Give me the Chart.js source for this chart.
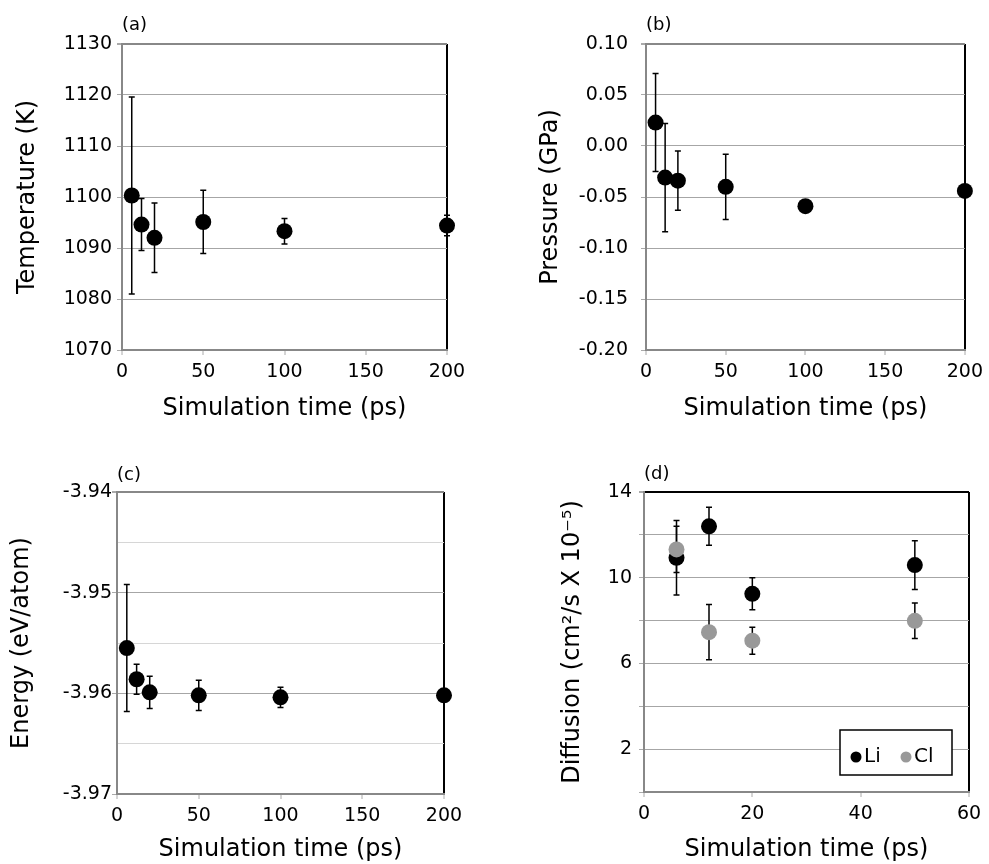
<!DOCTYPE html>
<html>
<head>
<meta charset="utf-8">
<script src="https://cdn.jsdelivr.net/npm/chart.js@4.4.1/dist/chart.umd.min.js"></script>
<style>
  html, body { margin: 0; padding: 0; background: #fff; }
  body { width: 989px; height: 864px; position: relative; overflow: hidden; }
  canvas { position: absolute; }
</style>
</head>
<body>
<canvas id="chartA" width="494" height="432" style="left:0px;top:0px"></canvas>
<canvas id="chartB" width="495" height="432" style="left:494px;top:0px"></canvas>
<canvas id="chartC" width="494" height="432" style="left:0px;top:432px"></canvas>
<canvas id="chartD" width="495" height="432" style="left:494px;top:432px"></canvas>
<script>
// simulation lengths (ps)
var times = [6, 12, 20, 50, 100, 200];
var temperature = [1100.3, 1094.6, 1092.0, 1095.1, 1093.3, 1094.4];
var temperatureErr = [19.3, 5.1, 6.8, 6.2, 2.5, 2.0];
var pressure = [0.023, -0.031, -0.034, -0.040, -0.059, -0.044];
var pressureErr = [0.048, 0.053, 0.029, 0.032, 0.006, 0.004];
var energy = [-3.9555, -3.9586, -3.9599, -3.9602, -3.9604, -3.9602];
var energyErr = [0.0063, 0.0015, 0.0016, 0.0015, 0.001, 0.0004];

var diffTimes = [6, 12, 20, 50];
var diffLi = [10.93, 12.40, 9.25, 10.59];
var diffLiErr = [1.74, 0.89, 0.75, 1.14];
var diffCl = [11.32, 7.46, 7.06, 7.99];
var diffClErr = [1.08, 1.29, 0.63, 0.83];

Chart.defaults.font.family = "'DejaVu Sans', sans-serif";
Chart.defaults.color = '#000';

function pts(xs, ys) {
  var out = [];
  for (var i = 0; i < xs.length; i++) out.push({x: xs[i], y: ys[i]});
  return out;
}

// vertical error bars with small caps, under the dots
var errorBars = {
  id: 'errorBars',
  beforeDatasetsDraw: function(chart) {
    var ctx = chart.ctx, xs = chart.scales.x, ys = chart.scales.y;
    ctx.save();
    ctx.strokeStyle = '#000';
    ctx.lineWidth = 1.5;
    chart.data.datasets.forEach(function(ds) {
      if (!ds.errors) return;
      ds.data.forEach(function(p, j) {
        var e = ds.errors[j];
        var px = xs.getPixelForValue(p.x);
        var top = ys.getPixelForValue(p.y + e);
        var bot = ys.getPixelForValue(p.y - e);
        ctx.beginPath();
        ctx.moveTo(px, top); ctx.lineTo(px, bot);
        ctx.moveTo(px - 3, top); ctx.lineTo(px + 3, top);
        ctx.moveTo(px - 3, bot); ctx.lineTo(px + 3, bot);
        ctx.stroke();
      });
    });
    ctx.restore();
  }
};

// boxed legend in the lower right of the plot (panel d)
var boxLegend = {
  id: 'boxLegend',
  afterDraw: function(chart) {
    if (!chart.options.plugins.boxLegend || !chart.options.plugins.boxLegend.show) return;
    var ctx = chart.ctx, a = chart.chartArea;
    var w = 112, h = 45;
    var left = a.right - 17 - w, top = a.bottom - 17 - h;
    ctx.save();
    ctx.fillStyle = '#fff';
    ctx.fillRect(left, top, w, h);
    ctx.strokeStyle = '#000';
    ctx.lineWidth = 1.5;
    ctx.strokeRect(left, top, w, h);
    ctx.font = "20px 'DejaVu Sans'";
    ctx.textBaseline = 'middle';
    var xpos = left + 16;
    chart.data.datasets.forEach(function(ds) {
      ctx.fillStyle = ds.backgroundColor;
      ctx.beginPath();
      ctx.arc(xpos, top + 27, 5.5, 0, Math.PI * 2);
      ctx.fill();
      ctx.fillStyle = '#000';
      ctx.fillText(ds.label, xpos + 8, top + 27);
      xpos += 50;
    });
    ctx.restore();
  }
};

function makePanel(id, cfg) {
  var canvas = document.getElementById(id);
  var ctop = cfg.topBorder || '#888';
  var yMax = cfg.yMax;
  return new Chart(canvas, {
    type: 'scatter',
    data: { datasets: cfg.datasets },
    options: {
      responsive: false,
      animation: false,
      layout: { padding: { left: 0, top: 0, right: cfg.padRight, bottom: 0 } },
      plugins: {
        legend: { display: false },
        tooltip: { enabled: false },
        title: {
          display: true,
          text: cfg.label,
          align: 'start',
          fullSize: false,
          font: { size: 18, weight: 'normal' },
          padding: { top: cfg.labelTop, bottom: cfg.labelBottom }
        },
        boxLegend: { show: !!cfg.legend }
      },
      scales: {
        x: {
          type: 'linear',
          min: 0,
          max: cfg.xMax,
          afterFit: function(s) { s.height = cfg.xHeight; },
          ticks: { stepSize: cfg.xStep, padding: 6, font: { size: 19 }, maxRotation: 0 },
          grid: {
            color: function(c) { return c.tick && c.tick.value === cfg.xMax ? '#000' : 'rgba(0,0,0,0)'; },
            lineWidth: 2,
            tickColor: '#aaa',
            tickLength: 5,
            tickWidth: 1
          },
          border: { color: '#888', width: 2 },
          title: {
            display: true,
            text: 'Simulation time (ps)',
            font: { size: 24 },
            padding: { top: 0, bottom: cfg.xTitlePad }
          }
        },
        y: {
          min: cfg.yMin,
          max: yMax,
          afterFit: function(s) { s.width = cfg.yWidth; },
          ticks: {
            stepSize: cfg.yStep,
            padding: cfg.yTickPad,
            font: { size: 19 },
            callback: cfg.yLabel
          },
          grid: {
            color: function(c) {
              if (!c.tick) return '#a6a6a6';
              if (Math.abs(c.tick.value - yMax) < 1e-9) return ctop;
              return cfg.minorGrid && cfg.minorGrid(c.index) ? '#d6d6d6' : '#a6a6a6';
            },
            lineWidth: function(c) {
              return c.tick && Math.abs(c.tick.value - yMax) < 1e-9 ? 2 : 1;
            },
            tickColor: function(c) {
              return cfg.minorGrid && cfg.minorGrid(c.index) ? 'rgba(0,0,0,0)' : '#aaa';
            },
            tickLength: 5
          },
          border: { color: '#888', width: 2 },
          title: {
            display: true,
            text: cfg.yTitle,
            font: { size: 24 },
            padding: { top: cfg.yTitlePad, bottom: 0 }
          }
        }
      }
    },
    plugins: [errorBars, boxLegend]
  });
}

function dot(label, xs, ys, errs, color, order) {
  return {
    label: label,
    data: pts(xs, ys),
    errors: errs,
    backgroundColor: color,
    borderColor: color,
    borderWidth: 0,
    pointRadius: 8,
    pointHoverRadius: 8,
    clip: false,
    order: order || 0
  };
}

makePanel('chartA', {
  label: '(a)', labelTop: 14.2, labelBottom: 8.2,
  datasets: [dot('Temperature', times, temperature, temperatureErr, '#000')],
  xMax: 200, xStep: 50, xHeight: 82, xTitlePad: 8.6,
  yMin: 1070, yMax: 1130, yStep: 10, yWidth: 122, yTickPad: 5, yTitlePad: 13,
  yTitle: 'Temperature (K)', padRight: 47
});

makePanel('chartB', {
  label: '(b)', labelTop: 14.2, labelBottom: 8.2,
  datasets: [dot('Pressure', times, pressure, pressureErr, '#000')],
  xMax: 200, xStep: 50, xHeight: 82, xTitlePad: 8.6,
  yMin: -0.2, yMax: 0.1, yStep: 0.05, yWidth: 152, yTickPad: 13, yTitlePad: 42.6,
  yTitle: 'Pressure (GPa)', padRight: 19,
  yLabel: function(v) { return Math.abs(v) < 1e-9 ? '0.00' : v.toFixed(2); }
});

makePanel('chartC', {
  label: '(c)', labelTop: 32.2, labelBottom: 6.2,
  datasets: [dot('Energy', times, energy, energyErr, '#000')],
  xMax: 200, xStep: 50, xHeight: 70, xTitlePad: 0,
  yMin: -3.97, yMax: -3.94, yStep: 0.005, yWidth: 117, yTickPad: 0, yTitlePad: 7.6,
  yTitle: 'Energy (eV/atom)', padRight: 50,
  minorGrid: function(i) { return i % 2 === 1; },
  yLabel: function(v, i) { return i % 2 === 0 ? v.toFixed(2) : ''; }
});

makePanel('chartD', {
  label: '(d)', labelTop: 31.7, labelBottom: 6.7,
  datasets: [
    dot('Li', diffTimes, diffLi, diffLiErr, '#000', 1),
    dot('Cl', diffTimes, diffCl, diffClErr, '#999999', 0)
  ],
  xMax: 60, xStep: 20, xHeight: 72, xTitlePad: 0,
  yMin: 0, yMax: 14, yStep: 2, yWidth: 150, yTickPad: 7, yTitlePad: 64,
  yTitle: 'Diffusion (cm\u00b2/s X 10\u207b\u2075)', padRight: 20, topBorder: '#000',
  legend: true,
  yLabel: function(v) { return (Math.round(v) % 4 === 2) ? String(Math.round(v)) : ''; }
});
</script>
</body>
</html>
